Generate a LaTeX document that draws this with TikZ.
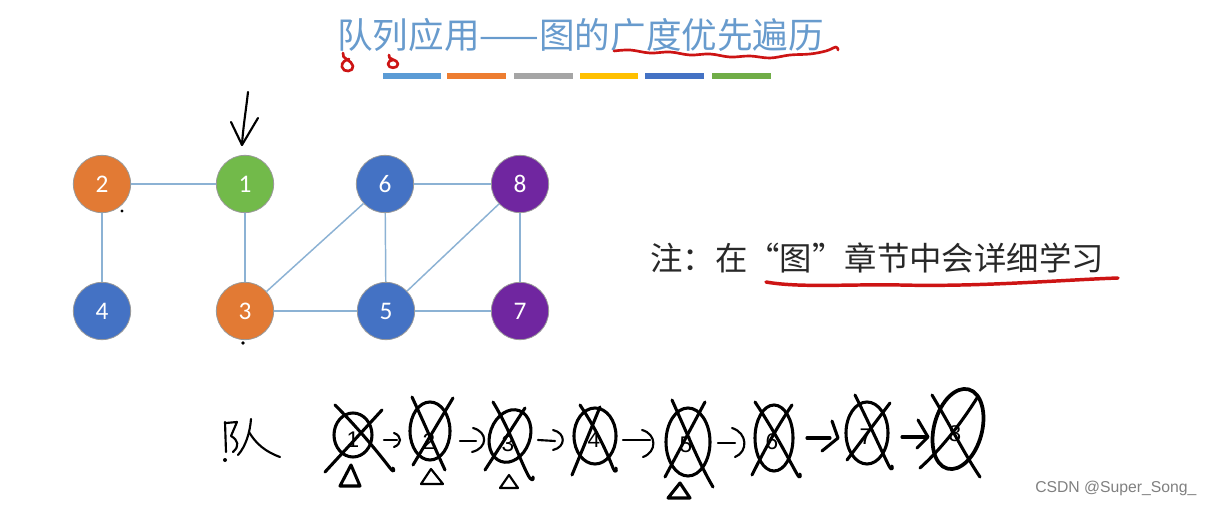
\documentclass[tikz,border=0pt]{standalone}
\usepackage{fontspec}
\newfontfamily\cjk{Noto Sans CJK SC}
\newfontfamily\carlito{Carlito}
\newfontfamily\wmfont{Liberation Sans}
\usetikzlibrary{calc}
\definecolor{edgec}{RGB}{140,178,212}
\definecolor{norange}{RGB}{226,122,52}
\definecolor{ngreen}{RGB}{114,186,74}
\definecolor{nblue}{RGB}{68,114,196}
\definecolor{npurple}{RGB}{112,38,160}
\definecolor{titlec}{RGB}{104,155,205}
\definecolor{inkred}{RGB}{205,20,20}
\definecolor{notec}{RGB}{40,40,40}
\definecolor{bara}{RGB}{91,155,213}
\definecolor{barb}{RGB}{237,125,49}
\definecolor{barc}{RGB}{165,165,165}
\definecolor{bard}{RGB}{255,192,0}
\definecolor{bare}{RGB}{68,114,196}
\definecolor{barf}{RGB}{112,173,71}
\begin{document}
\begin{tikzpicture}[x=0.75pt,y=-0.75pt,
  vtx/.style={circle, minimum size=43pt, inner sep=0pt, draw=black!40, line width=0.6pt,
    text=white, font=\carlito\fontsize{19}{19}\selectfont},
  edge/.style={draw=edgec, line width=1.1pt},
  hand/.style={draw=black, line width=2.3pt, line cap=round, line join=round},
  thinhand/.style={draw=black, line width=1.6pt, line cap=round, line join=round},
  ink/.style={draw=inkred, line width=2pt, line cap=round, line join=round},
  digit/.style={font=\wmfont\fontsize{17}{17}\selectfont, text=black, inner sep=0pt},
]
\fill[white] (0,0) rectangle (1211,506);
\useasboundingbox (0,0) rectangle (1211,506);

% title
\node[anchor=west, inner sep=0pt, text=titlec, font=\cjk\fontsize{26.7}{26.7}\selectfont] (title) at (337,35) {队列应用——图的广度优先遍历};
% colour bars
\fill[bara] (383,73) rectangle (441,79);
\fill[barb] (447,73) rectangle (506,79);
\fill[barc] (514,73) rectangle (573,79);
\fill[bard] (580,73) rectangle (638,79);
\fill[bare] (645,73) rectangle (704,79);
\fill[barf] (712,73) rectangle (771,79);
% red annotations on title
\draw[ink] plot[smooth, tension=0.6] coordinates {(614,51) (630,50) (650,53) (670,52) (690,55) (710,54) (730,57) (750,56) (770,58) (790,55) (810,54) (826,51) (836,47) (838,50)};
\draw[ink] (343,53) .. controls (341,59) and (352,60) .. (353,66) .. controls (354,72) and (343,73) .. (342,67) .. controls (341,62) and (346,60) .. (349,59);
\draw[ink] (389,55) .. controls (387,60) and (398,59) .. (398,64) .. controls (398,69) and (388,69) .. (388,64) .. controls (388,61) and (391,60) .. (393,60);

% graph nodes
\node[vtx, fill=norange] (n2) at (102,184) {2};
\node[vtx, fill=ngreen]  (n1) at (245,184) {1};
\node[vtx, fill=nblue]   (n6) at (385,184) {6};
\node[vtx, fill=npurple] (n8) at (520,184) {8};
\node[vtx, fill=nblue]   (n4) at (102,311) {4};
\node[vtx, fill=norange] (n3) at (245,311) {3};
\node[vtx, fill=nblue]   (n5) at (386,311) {5};
\node[vtx, fill=npurple] (n7) at (520,311) {7};
\draw[edge] (n2) -- (n1);
\draw[edge] (n2) -- (n4);
\draw[edge] (n1) -- (n3);
\draw[edge] (n3) -- (n6);
\draw[edge] (n3) -- (n5);
\draw[edge] (n6) -- (n5);
\draw[edge] (n6) -- (n8);
\draw[edge] (n8) -- (n5);
\draw[edge] (n8) -- (n7);
\draw[edge] (n5) -- (n7);

% hand-drawn arrow pointing to node 1
\coordinate (arrtop) at (248,92);
\coordinate (arrtip) at ($(n1.north)+(-3,-10)$);
\draw[thinhand] (arrtop) .. controls (246,110) and (243,128) .. (arrtip);
\draw[thinhand] (231,122) -- (arrtip) -- (258,118);
\fill (122,211) circle [radius=1.6];
\fill (243,343) circle [radius=1.8];

% note
\node[anchor=west, inner sep=0pt, text=notec, font=\cjk\fontsize{24.3}{24.3}\selectfont] (note) at (650,258) {注：在“图”章节中会详细学习};
\draw[ink, line width=2.6pt] (766,282) .. controls (800,288) and (850,284) .. (900,285) .. controls (980,287) and (1060,280) .. (1118,278);

% bottom: handwritten queue
% "队"
\draw[thinhand] (225,422) -- (226,452);
\fill (225,460) circle [radius=2];
\draw[thinhand] (226,423) -- (237,422) -- (231,436) .. controls (238,440) and (240,446) .. (233,452);
\draw[thinhand] (251,419) .. controls (250,432) and (246,446) .. (238,455);
\draw[thinhand] (249,432) .. controls (256,444) and (266,452) .. (280,457);

% circle 1
\draw[hand] (353,435) ellipse [x radius=19, y radius=22];
\node[digit] (d1) at (353,440) {1};
\draw[hand] (325,472) -- (382,410);
\draw[hand] (335,405) .. controls (360,430) and (380,455) .. (390,468) .. controls (393,472) and (395,472) .. (393,468);
\draw[hand] (351,465) -- (340,486) -- (360,486) -- cycle;
\draw[thinhand] (384,440) -- (397,440);
\draw[thinhand] (394,433) .. controls (402,436) and (402,444) .. (394,447);

% circle 2
\draw[hand] (430,431) ellipse [x radius=20, y radius=29];
\node[digit] (d2) at (429,442) {2};
\draw[hand] (412,397) .. controls (425,425) and (438,455) .. (445,470);
\draw[hand] (453,398) -- (413,465);
\draw[thinhand] (431,469) -- (421,484) -- (443,484) -- cycle;
\draw[thinhand] (460,441) -- (476,441);
\draw[thinhand] (473,428) .. controls (488,432) and (488,448) .. (472,452);

% circle 3
\draw[hand, rotate around={-20:(510,436)}] (510,436) ellipse [x radius=20, y radius=27];
\node[digit] (d3) at (508,444) {3};
\draw[hand] (493,402) .. controls (510,430) and (520,460) .. (528,475) .. controls (531,481) and (534,481) .. (533,477);
\draw[hand] (525,408) -- (485,470);
\draw[thinhand] (509,475) -- (500,488) -- (518,488) -- cycle;
\draw[thinhand] (538,440) -- (555,441);
\draw[thinhand] (553,430) .. controls (566,433) and (566,447) .. (553,450);

% circle 4
\draw[hand] (595,436) ellipse [x radius=21, y radius=28];
\node[digit] (d4) at (594,440) {4};
\draw[hand] (580,405) .. controls (598,432) and (608,455) .. (613,468) .. controls (615,473) and (617,472) .. (616,468);
\draw[hand] (600,407) -- (572,475);
\draw[thinhand] (623,440) -- (650,440);
\draw[thinhand] (642,430) .. controls (657,434) and (657,452) .. (643,457);

% circle 5
\draw[hand] (688,442) ellipse [x radius=22, y radius=34];
\node[digit] (d5) at (686,445) {5};
\draw[hand] (672,400) .. controls (690,440) and (700,465) .. (713,487);
\draw[hand] (705,402) -- (665,477);
\draw[hand] (680,483) -- (668,498) -- (690,498) -- cycle;
\draw[thinhand] (718,443) -- (735,443);
\draw[thinhand] (732,428) .. controls (748,433) and (748,452) .. (735,457);

% circle 6
\draw[hand] (774,438) ellipse [x radius=19, y radius=33];
\node[digit] (d6) at (772,442) {6};
\draw[hand] (755,402) .. controls (775,432) and (788,458) .. (797,474) .. controls (799,478) and (801,478) .. (800,474);
\draw[hand] (792,405) .. controls (775,430) and (762,455) .. (752,475);
\draw[hand] (807,438) -- (830,438);
\draw[hand] (832,421) -- (838,438) -- (822,451);

% circle 7
\draw[hand] (867,433) ellipse [x radius=21, y radius=31];
\node[digit] (d7) at (866,437) {7};
\draw[hand] (855,395) .. controls (870,425) and (882,452) .. (889,466) .. controls (891,470) and (893,470) .. (892,466);
\draw[hand] (890,403) -- (847,460);
\draw[hand] (902,437) -- (925,437);
\draw[hand] (918,420) -- (928,437) -- (917,448);

% circle 8
\draw[hand, line width=2.8pt, rotate around={-15:(958,429)}] (958,429) ellipse [x radius=24, y radius=41];
\node[digit] (d8) at (955,434) {8};
\draw[hand] (932,395) .. controls (950,425) and (965,455) .. (980,477);
\draw[hand] (977,398) .. controls (960,425) and (940,450) .. (920,468);

% watermark
\node[anchor=west, inner sep=0pt, text=black!50, font=\wmfont\fontsize{11.8}{11.8}\selectfont] (wm) at (1035,488) {CSDN @Super\_Song\_};
\end{tikzpicture}
\end{document}
